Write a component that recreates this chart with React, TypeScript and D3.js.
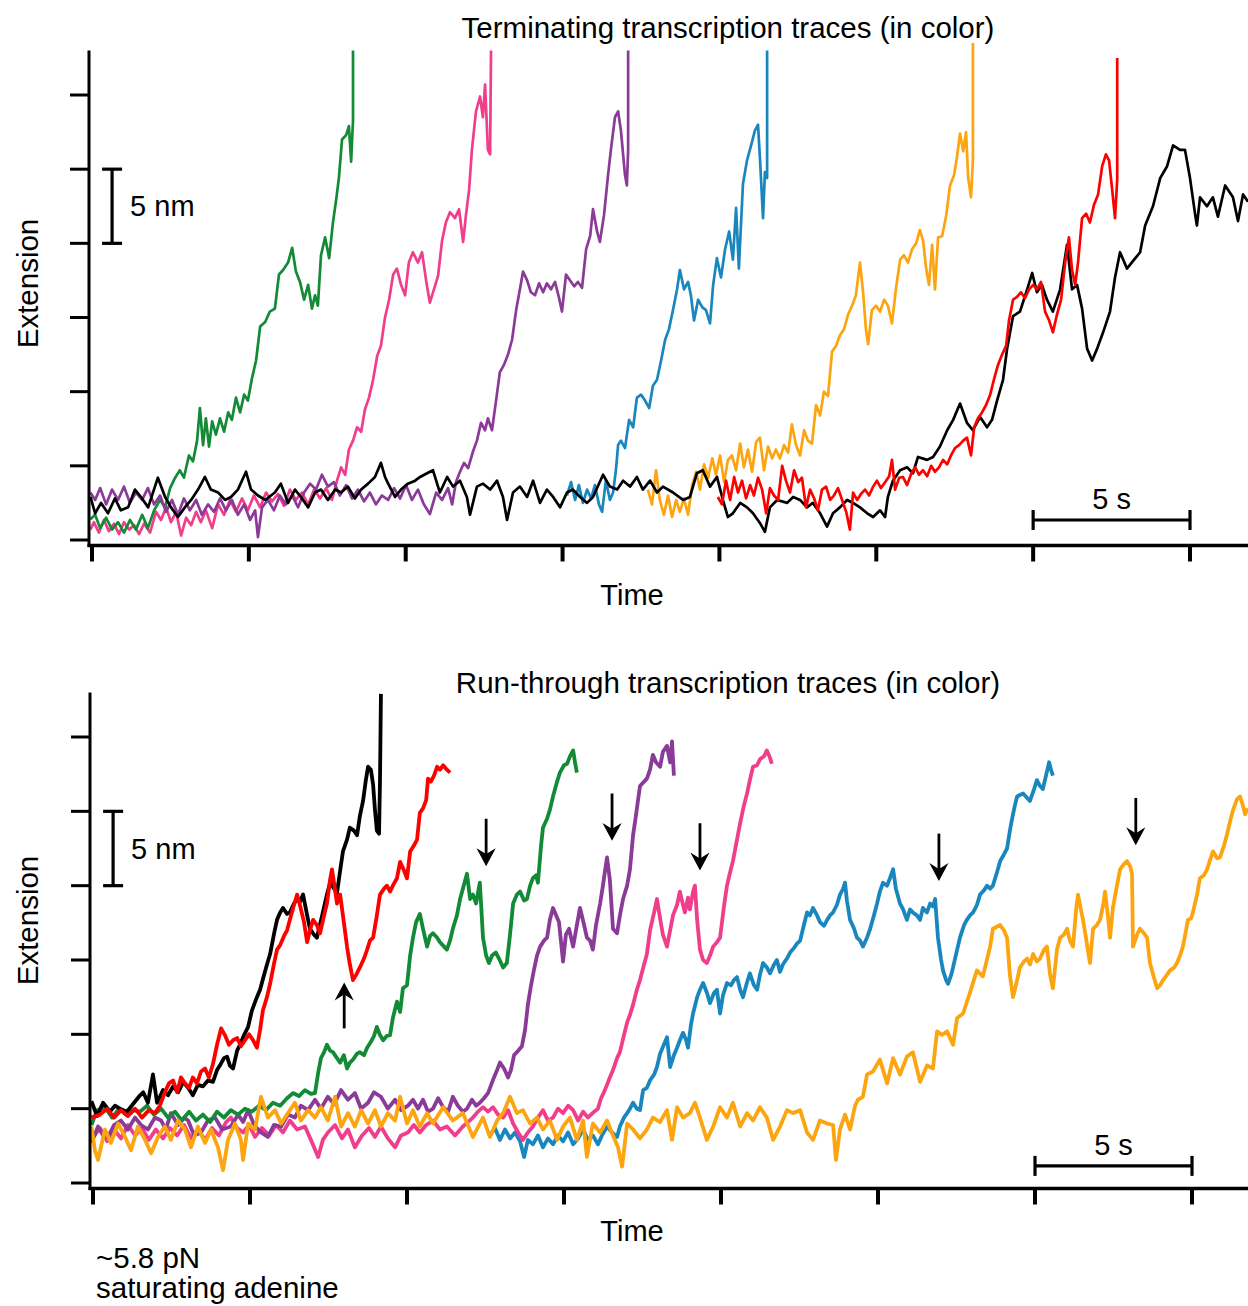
import * as d3 from "d3";

type Pt = [number, number];

// colours picked off the figure
const GREEN = "#138a36";
const PINK = "#f03e8c";
const PURPLE = "#8a3a97";
const BLUE = "#1a86be";
const ORANGE = "#fca510";
const RED = "#fd0000";
const BLACK = "#000000";

const FONT = "'Liberation Sans', Arial, Helvetica, sans-serif";

// axis ticks (no labels on the figure, scale bars instead)
const timeTicks = [0, 5, 10, 15, 20, 25, 30, 35];
const extTicks = [0, 5, 10, 15, 20, 25, 30];

// ---- terminating traces: [time s, extension nm] ----
const topGreen: Pt[] = [[-0.05,1.4],[0.1,1.7],[0.26,0.8],[0.45,1.5],[0.64,0.7],[0.83,1.2],[1.02,0.5],[1.21,1.35],[1.4,0.7],[1.6,1.7],[1.78,0.8],[1.98,2.0],[2.17,2.7],[2.33,2.2],[2.49,3.5],[2.65,4.2],[2.8,4.7],[2.93,4.2],[3.09,5.7],[3.22,5.3],[3.35,6.7],[3.44,8.9],[3.54,6.4],[3.63,8.2],[3.73,6.3],[3.83,8.0],[3.95,7.1],[4.08,8.2],[4.21,7.3],[4.34,8.6],[4.46,8.1],[4.59,9.6],[4.72,8.6],[4.85,9.8],[4.97,9.4],[5.1,10.9],[5.23,12.1],[5.36,14.4],[5.52,14.7],[5.67,15.4],[5.83,15.6],[5.96,17.9],[6.09,18.2],[6.25,18.7],[6.38,19.7],[6.5,18.1],[6.63,17.4],[6.76,16.2],[6.89,17.2],[7.01,15.6],[7.11,16.5],[7.2,15.8],[7.3,19.2],[7.43,20.4],[7.56,19.0],[7.68,21.4],[7.78,22.9],[7.87,24.4],[7.97,27.0],[8.1,27.3],[8.19,27.9],[8.26,25.5],[8.32,28.3],[8.32,33.0]];

const topPink: Pt[] = [[-0.05,0.7],[0.06,1.2],[0.22,0.5],[0.38,1.35],[0.54,0.6],[0.7,1.1],[0.86,0.4],[1.02,1.2],[1.18,0.7],[1.34,1.0],[1.5,0.4],[1.66,1.1],[1.85,0.5],[2.04,1.9],[2.2,1.35],[2.36,2.2],[2.52,1.2],[2.68,1.9],[2.84,0.3],[3.0,1.5],[3.16,1.0],[3.32,1.9],[3.47,1.2],[3.63,2.0],[3.83,0.8],[4.02,2.4],[4.21,1.7],[4.4,2.7],[4.59,1.9],[4.78,2.8],[4.97,2.0],[5.16,3.0],[5.36,2.2],[5.55,3.2],[5.74,2.6],[5.93,3.1],[6.12,2.3],[6.31,3.4],[6.5,2.7],[6.69,3.2],[6.89,2.4],[7.08,3.4],[7.27,2.8],[7.46,3.5],[7.65,2.7],[7.81,4.0],[7.94,4.9],[8.07,4.4],[8.19,6.1],[8.32,6.7],[8.45,7.6],[8.58,7.3],[8.7,8.8],[8.83,9.6],[8.96,10.8],[9.09,12.4],[9.21,13.1],[9.34,15.0],[9.47,16.2],[9.6,17.9],[9.72,18.3],[9.85,17.2],[9.98,16.5],[10.1,18.7],[10.23,19.4],[10.39,18.7],[10.52,19.4],[10.65,17.5],[10.77,16.0],[10.9,16.9],[11.03,17.8],[11.16,20.2],[11.28,21.4],[11.41,22.1],[11.57,21.7],[11.7,22.3],[11.83,20.1],[11.92,21.9],[12.02,23.6],[12.11,26.3],[12.24,28.9],[12.37,29.9],[12.46,28.5],[12.53,30.7],[12.62,26.3],[12.69,26.0],[12.72,33.0]];

const topPurple: Pt[] = [[-0.05,3.2],[0.1,2.7],[0.26,3.5],[0.45,2.4],[0.64,3.4],[0.83,2.7],[1.02,3.6],[1.21,2.5],[1.4,3.2],[1.6,2.7],[1.78,3.5],[1.98,2.4],[2.17,3.0],[2.36,1.9],[2.55,2.7],[2.74,1.7],[2.93,2.8],[3.12,2.0],[3.32,2.7],[3.5,1.7],[3.7,2.4],[3.89,1.9],[4.08,2.8],[4.27,2.0],[4.46,2.7],[4.65,1.7],[4.85,2.4],[5.04,1.35],[5.2,2.0],[5.29,0.2],[5.42,2.2],[5.61,2.7],[5.8,2.0],[5.99,3.0],[6.18,2.4],[6.38,3.0],[6.57,2.2],[6.76,3.2],[6.95,3.8],[7.14,3.4],[7.33,4.4],[7.52,3.6],[7.71,3.9],[7.9,3.0],[8.1,3.7],[8.29,2.8],[8.48,3.4],[8.67,2.6],[8.86,3.2],[9.05,2.4],[9.24,3.0],[9.44,2.7],[9.63,3.5],[9.82,2.8],[10.01,3.7],[10.2,2.7],[10.39,3.4],[10.58,2.4],[10.77,1.75],[10.97,3.2],[11.16,2.7],[11.35,3.5],[11.48,2.4],[11.6,3.9],[11.73,4.6],[11.86,5.2],[11.99,4.85],[12.15,6.0],[12.27,6.7],[12.4,7.9],[12.53,7.4],[12.62,8.2],[12.75,7.4],[12.88,9.4],[13.0,11.3],[13.13,11.8],[13.26,12.5],[13.39,13.5],[13.52,15.5],[13.64,16.9],[13.74,18.1],[13.87,17.5],[13.99,16.7],[14.12,16.5],[14.25,17.3],[14.38,16.7],[14.5,17.3],[14.63,16.9],[14.76,17.4],[14.89,16.3],[14.98,15.4],[15.11,17.9],[15.24,17.5],[15.37,17.1],[15.49,17.4],[15.62,17.0],[15.75,19.6],[15.88,20.5],[15.97,22.3],[16.1,20.8],[16.19,20.1],[16.32,21.9],[16.45,24.6],[16.54,26.3],[16.67,28.5],[16.77,28.9],[16.86,27.6],[16.99,24.6],[17.05,23.9],[17.09,26.3],[17.09,33.0]];

const topBlue: Pt[] = [[15.14,3.0],[15.27,3.9],[15.4,2.7],[15.52,3.7],[15.65,2.5],[15.78,3.4],[15.91,2.8],[16.03,3.7],[16.16,2.4],[16.26,1.9],[16.38,4.0],[16.51,2.7],[16.61,3.2],[16.7,4.7],[16.77,6.4],[16.86,6.7],[16.99,6.2],[17.12,8.1],[17.25,7.6],[17.37,9.6],[17.5,9.8],[17.63,9.4],[17.76,8.9],[17.88,10.4],[18.01,10.8],[18.14,12.1],[18.27,13.5],[18.39,14.2],[18.52,15.5],[18.65,16.9],[18.74,18.2],[18.87,16.9],[19.0,17.4],[19.09,16.5],[19.19,14.8],[19.32,16.2],[19.45,15.7],[19.57,15.5],[19.7,14.6],[19.8,17.2],[19.92,19.0],[20.05,17.7],[20.18,19.6],[20.31,20.8],[20.43,18.9],[20.53,22.4],[20.62,18.3],[20.75,24.0],[20.88,25.6],[21.01,26.6],[21.13,27.6],[21.23,28.0],[21.29,25.8],[21.39,21.7],[21.45,24.8],[21.52,24.4],[21.52,33.0]];

const topOrange: Pt[] = [[17.72,3.4],[17.85,2.4],[17.98,4.7],[18.1,2.7],[18.23,1.7],[18.36,3.0],[18.49,1.55],[18.62,2.7],[18.74,1.9],[18.87,2.8],[19.0,1.7],[19.13,3.7],[19.26,4.6],[19.38,3.4],[19.51,5.1],[19.64,4.2],[19.77,5.5],[19.89,4.4],[20.02,5.7],[20.15,3.9],[20.27,5.4],[20.4,5.7],[20.53,4.7],[20.66,6.5],[20.78,4.9],[20.91,6.1],[21.04,4.6],[21.17,6.6],[21.29,6.9],[21.42,4.7],[21.55,6.3],[21.68,5.5],[21.8,6.1],[21.93,5.5],[22.06,6.4],[22.19,5.9],[22.31,7.8],[22.44,6.4],[22.57,5.7],[22.7,7.4],[22.82,6.7],[22.95,6.5],[23.08,9.1],[23.21,8.4],[23.33,10.0],[23.46,9.7],[23.59,12.7],[23.72,13.1],[23.84,13.8],[23.97,14.2],[24.1,15.2],[24.23,15.8],[24.35,16.5],[24.48,18.7],[24.58,16.7],[24.67,14.2],[24.74,13.2],[24.86,15.5],[24.99,15.8],[25.12,15.4],[25.25,16.2],[25.37,15.8],[25.5,14.6],[25.63,17.0],[25.76,18.9],[25.88,19.2],[26.01,18.7],[26.14,19.6],[26.27,20.0],[26.39,20.9],[26.49,20.2],[26.59,18.3],[26.68,17.2],[26.78,19.9],[26.87,16.9],[26.97,20.4],[27.1,20.5],[27.23,21.9],[27.35,23.9],[27.48,24.6],[27.57,25.8],[27.67,27.4],[27.77,26.2],[27.86,27.5],[27.93,24.4],[28.02,23.1],[28.08,25.6],[28.08,33.5]];

const topRed: Pt[] = [[19.95,2.9],[20.08,2.4],[20.21,4.0],[20.34,2.7],[20.47,4.25],[20.59,3.2],[20.72,4.0],[20.85,2.8],[20.98,3.7],[21.1,3.0],[21.23,4.2],[21.36,3.4],[21.49,1.8],[21.61,3.5],[21.74,3.0],[21.87,2.7],[22.0,5.0],[22.12,4.0],[22.25,3.2],[22.38,4.7],[22.51,3.9],[22.63,4.2],[22.76,2.2],[22.89,3.4],[23.02,2.8],[23.14,2.0],[23.27,3.4],[23.4,3.6],[23.53,2.7],[23.65,3.0],[23.78,3.5],[23.91,2.7],[24.04,1.9],[24.16,0.7],[24.26,3.2],[24.39,2.7],[24.51,3.1],[24.64,3.4],[24.77,3.0],[24.9,3.6],[25.02,4.0],[25.15,3.5],[25.28,3.9],[25.41,4.3],[25.5,5.4],[25.6,3.4],[25.73,4.2],[25.85,4.25],[25.98,3.7],[26.11,4.45],[26.24,4.9],[26.36,4.4],[26.49,4.7],[26.62,4.3],[26.75,5.0],[26.87,4.6],[27.0,4.9],[27.13,5.4],[27.26,5.1],[27.38,5.7],[27.51,6.2],[27.64,6.4],[27.77,6.7],[27.89,6.9],[28.02,5.7],[28.12,7.6],[28.24,8.2],[28.37,8.6],[28.5,9.1],[28.63,9.8],[28.76,10.9],[28.88,11.8],[29.01,12.5],[29.14,13.1],[29.23,14.8],[29.36,16.2],[29.49,16.4],[29.61,16.7],[29.74,16.3],[29.87,16.9],[30.0,17.2],[30.12,16.9],[30.25,17.4],[30.38,15.4],[30.51,14.8],[30.63,14.0],[30.76,15.2],[30.89,16.2],[31.02,18.7],[31.14,20.4],[31.24,18.2],[31.34,17.2],[31.43,18.7],[31.56,21.7],[31.69,22.0],[31.81,21.4],[31.94,22.6],[32.07,23.3],[32.2,25.2],[32.32,26.0],[32.42,25.6],[32.52,23.6],[32.61,21.7],[32.68,24.3],[32.68,32.5]];

const topBlack: Pt[] = [[-0.05,2.9],[0.1,1.8],[0.29,2.5],[0.51,1.8],[0.73,2.8],[0.92,2.0],[1.15,2.2],[1.37,3.4],[1.56,2.9],[1.79,2.2],[2.1,4.2],[2.33,2.9],[2.52,2.2],[2.74,1.55],[2.96,2.2],[3.16,2.7],[3.38,3.4],[3.6,4.25],[3.79,3.4],[4.02,3.2],[4.24,2.7],[4.43,2.9],[4.65,3.4],[4.91,4.6],[5.07,3.4],[5.29,3.0],[5.52,2.7],[5.83,3.2],[6.02,3.8],[6.25,2.5],[6.47,3.4],[6.66,2.9],[6.89,2.2],[7.11,3.2],[7.3,3.4],[7.52,2.7],[7.75,3.4],[7.94,3.2],[8.16,3.6],[8.38,2.8],[8.58,3.4],[8.8,3.8],[9.02,4.25],[9.21,5.2],[9.34,4.25],[9.44,3.8],[9.66,2.9],[9.85,3.4],[10.07,3.8],[10.3,4.0],[10.46,4.25],[10.68,4.5],[10.87,4.7],[11.09,3.2],[11.32,4.25],[11.51,3.6],[11.73,4.0],[11.95,2.9],[12.05,1.7],[12.27,3.6],[12.46,3.8],[12.69,3.4],[12.91,4.0],[13.1,2.9],[13.23,1.35],[13.42,3.2],[13.64,3.6],[13.87,2.9],[14.06,4.0],[14.28,2.5],[14.5,3.4],[14.7,2.9],[14.92,2.2],[15.14,3.2],[15.33,3.4],[15.56,2.9],[15.78,2.5],[15.97,2.9],[16.29,4.4],[16.51,3.6],[16.74,3.4],[16.93,4.0],[17.15,3.6],[17.37,4.25],[17.56,3.4],[17.79,4.0],[18.01,3.2],[18.2,3.6],[18.52,3.2],[18.84,2.7],[19.06,2.9],[19.28,4.5],[19.47,4.7],[19.7,3.6],[19.92,4.25],[20.11,2.7],[20.27,1.55],[20.43,1.8],[20.66,2.5],[20.88,2.2],[21.07,1.8],[21.29,1.15],[21.45,0.55],[21.61,2.2],[21.84,2.7],[22.16,2.5],[22.35,2.9],[22.57,2.7],[22.79,2.2],[22.98,2.5],[23.21,1.8],[23.43,0.9],[23.62,1.8],[23.84,2.2],[24.07,2.7],[24.26,2.5],[24.48,2.2],[24.71,1.8],[24.9,1.55],[25.12,2.0],[25.28,1.55],[25.37,2.9],[25.53,4.0],[25.76,4.7],[25.98,4.9],[26.17,4.5],[26.33,5.6],[26.62,5.4],[26.81,5.6],[27.03,6.3],[27.26,7.4],[27.45,8.1],[27.67,9.2],[27.89,7.9],[28.08,7.4],[28.31,8.3],[28.53,7.6],[28.69,8.1],[28.85,9.4],[29.04,10.8],[29.17,12.9],[29.36,15.1],[29.58,15.4],[29.81,16.9],[29.97,18.0],[30.12,16.7],[30.28,17.2],[30.44,16.2],[30.63,15.4],[30.86,16.9],[31.08,19.9],[31.24,16.9],[31.4,17.2],[31.56,15.6],[31.72,12.9],[31.88,12.1],[32.04,12.9],[32.23,14.0],[32.45,15.4],[32.61,17.7],[32.77,19.4],[32.99,18.3],[33.18,18.8],[33.41,19.4],[33.57,21.2],[33.82,22.5],[34.05,24.4],[34.27,25.2],[34.46,26.6],[34.68,26.3],[34.84,26.3],[35.0,24.4],[35.16,22.0],[35.22,21.2],[35.32,23.1],[35.54,22.5],[35.73,23.1],[35.89,21.8],[36.12,23.9],[36.37,23.1],[36.53,21.5],[36.69,23.3],[36.85,22.8]];

// ---- run-through traces ----
const botBlack: Pt[] = [[-0.05,5.5],[0.13,4.5],[0.32,5.4],[0.54,4.8],[0.7,5.2],[0.86,5.0],[1.08,4.8],[1.27,5.3],[1.5,5.9],[1.6,6.1],[1.75,5.4],[1.91,7.3],[2.04,5.4],[2.23,6.25],[2.39,5.9],[2.55,6.5],[2.71,6.1],[2.87,6.8],[3.03,6.4],[3.18,5.9],[3.34,6.6],[3.5,6.5],[3.66,6.9],[3.82,6.8],[3.95,7.6],[4.04,7.9],[4.17,8.4],[4.27,8.5],[4.36,7.9],[4.46,7.7],[4.59,8.9],[4.68,9.3],[4.81,9.95],[4.94,10.5],[5.06,11.6],[5.22,12.5],[5.32,13.0],[5.41,13.7],[5.54,14.7],[5.64,15.4],[5.76,16.7],[5.86,17.7],[5.96,18.2],[6.05,18.5],[6.18,18.1],[6.27,18.2],[6.4,18.8],[6.5,19.1],[6.59,18.9],[6.69,19.4],[6.82,18.0],[6.91,17.1],[7.04,16.7],[7.13,16.5],[7.23,17.4],[7.32,18.2],[7.45,19.4],[7.55,20.2],[7.68,19.8],[7.77,19.5],[7.87,21.0],[7.96,22.3],[8.09,23.1],[8.18,23.9],[8.31,23.7],[8.41,23.4],[8.5,24.7],[8.6,25.7],[8.69,27.1],[8.76,28.0],[8.85,27.8],[8.92,26.8],[8.98,25.1],[9.04,23.7],[9.11,23.5],[9.14,27.1],[9.17,32.9]];

const botRed: Pt[] = [[-0.05,4.4],[0.22,4.6],[0.45,5.0],[0.67,4.4],[0.89,4.9],[1.11,4.5],[1.34,5.0],[1.56,4.4],[1.78,4.9],[1.97,4.7],[2.13,5.2],[2.29,6.1],[2.42,6.7],[2.55,6.9],[2.68,6.1],[2.8,7.1],[2.93,6.7],[3.06,6.4],[3.18,7.1],[3.31,6.7],[3.44,7.5],[3.57,7.7],[3.69,7.1],[3.82,8.0],[3.95,9.3],[4.08,10.4],[4.2,9.95],[4.33,9.3],[4.46,9.6],[4.59,9.75],[4.71,9.2],[4.84,9.6],[4.97,10.0],[5.1,9.6],[5.22,9.1],[5.32,10.3],[5.41,11.6],[5.54,12.5],[5.64,13.4],[5.76,14.7],[5.86,15.7],[5.96,16.0],[6.08,16.6],[6.18,17.0],[6.27,17.7],[6.4,18.7],[6.5,19.4],[6.59,18.7],[6.72,17.55],[6.82,16.2],[6.91,17.0],[7.01,17.7],[7.13,17.35],[7.23,16.8],[7.36,18.0],[7.45,18.8],[7.55,20.4],[7.61,21.1],[7.71,19.7],[7.77,18.8],[7.87,19.4],[7.96,18.0],[8.09,15.9],[8.18,14.7],[8.28,13.65],[8.38,14.0],[8.5,14.5],[8.63,15.1],[8.73,15.7],[8.82,16.3],[8.92,16.5],[9.04,18.0],[9.14,19.4],[9.27,19.8],[9.36,20.0],[9.46,19.6],[9.55,20.0],[9.68,20.5],[9.78,21.6],[9.9,21.05],[10.0,20.5],[10.1,22.3],[10.22,22.7],[10.32,23.1],[10.41,24.9],[10.51,25.2],[10.61,25.75],[10.67,27.2],[10.76,27.0],[10.86,27.4],[10.96,28.0],[11.05,27.8],[11.15,28.1],[11.27,27.8],[11.37,27.6]];

const botGreen: Pt[] = [[-0.05,3.9],[0.13,4.9],[0.38,5.1],[0.61,4.4],[0.83,5.0],[1.05,4.6],[1.27,4.9],[1.5,4.8],[1.72,5.2],[1.94,4.6],[2.17,5.0],[2.39,4.4],[2.61,4.8],[2.83,4.2],[3.06,4.8],[3.28,4.2],[3.5,4.6],[3.73,4.1],[3.95,4.8],[4.17,4.4],[4.39,4.9],[4.62,4.6],[4.84,5.0],[5.06,4.8],[5.29,5.2],[5.51,4.9],[5.73,5.4],[5.96,5.2],[6.18,5.7],[6.37,6.05],[6.56,5.85],[6.75,6.25],[6.94,6.0],[7.07,6.05],[7.17,7.4],[7.26,8.4],[7.36,8.8],[7.45,9.3],[7.55,8.9],[7.64,8.8],[7.77,8.4],[7.87,8.1],[7.99,8.6],[8.09,7.7],[8.18,8.1],[8.28,8.3],[8.41,8.7],[8.5,8.8],[8.63,8.6],[8.73,9.1],[8.85,9.5],[8.95,9.9],[9.04,10.5],[9.14,9.95],[9.24,9.6],[9.36,9.9],[9.46,9.95],[9.55,11.1],[9.68,12.2],[9.78,11.5],[9.87,13.1],[10.0,13.3],[10.1,15.3],[10.19,16.5],[10.29,17.55],[10.41,18.1],[10.51,17.1],[10.64,15.9],[10.73,16.6],[10.83,16.8],[10.96,16.5],[11.05,16.2],[11.18,15.9],[11.27,15.7],[11.37,16.3],[11.46,17.1],[11.59,18.0],[11.69,19.1],[11.78,19.8],[11.91,20.8],[12.01,19.1],[12.1,19.4],[12.2,18.8],[12.32,20.2],[12.42,16.5],[12.52,15.3],[12.61,14.8],[12.71,15.3],[12.83,15.5],[12.93,15.1],[13.06,14.5],[13.18,14.8],[13.28,16.7],[13.38,18.8],[13.5,19.4],[13.6,19.6],[13.73,19.0],[13.82,19.1],[13.92,20.0],[14.01,20.5],[14.11,20.7],[14.17,20.2],[14.27,22.7],[14.33,23.9],[14.46,24.5],[14.55,25.1],[14.65,26.0],[14.78,27.0],[14.87,27.6],[15.0,28.1],[15.1,28.2],[15.19,28.7],[15.29,29.1],[15.35,28.3],[15.41,27.6]];

const botPurple: Pt[] = [[-0.05,2.7],[0.16,3.8],[0.32,3.2],[0.48,3.1],[0.67,3.9],[0.89,4.2],[1.11,3.6],[1.34,4.4],[1.53,3.9],[1.75,3.6],[1.97,4.4],[2.17,4.2],[2.32,3.6],[2.48,4.7],[2.71,3.9],[2.9,4.4],[3.03,4.2],[3.22,3.2],[3.44,3.4],[3.66,4.2],[3.89,4.4],[4.11,3.6],[4.39,3.8],[4.62,4.6],[4.78,4.1],[4.94,4.9],[5.13,3.9],[5.35,3.4],[5.57,3.1],[5.76,3.9],[5.99,3.8],[6.21,4.6],[6.43,4.4],[6.62,5.2],[6.85,4.9],[7.07,5.6],[7.26,5.0],[7.48,5.8],[7.68,5.3],[7.9,6.25],[8.12,5.6],[8.34,6.05],[8.54,5.0],[8.76,5.4],[8.95,6.1],[9.17,5.8],[9.39,5.0],[9.62,5.6],[9.81,4.9],[10.03,5.2],[10.19,5.6],[10.35,5.0],[10.51,5.6],[10.67,4.8],[10.83,5.0],[10.99,5.7],[11.15,5.1],[11.31,4.8],[11.46,5.8],[11.62,5.2],[11.78,4.8],[11.91,5.0],[12.07,5.6],[12.2,5.2],[12.32,5.4],[12.45,5.7],[12.58,6.05],[12.68,6.6],[12.77,7.1],[12.87,7.6],[12.96,8.1],[13.09,7.7],[13.22,7.1],[13.31,7.6],[13.41,8.6],[13.54,8.9],[13.66,9.2],[13.76,10.3],[13.85,12.0],[13.95,13.3],[14.04,14.3],[14.14,15.3],[14.24,15.9],[14.36,16.3],[14.46,16.5],[14.55,17.7],[14.65,18.5],[14.75,18.0],[14.84,17.55],[14.97,14.9],[15.06,16.7],[15.16,17.1],[15.29,15.9],[15.41,17.35],[15.51,18.5],[15.64,17.35],[15.73,16.5],[15.83,16.3],[15.92,15.7],[16.02,17.35],[16.15,18.8],[16.24,20.0],[16.31,21.05],[16.37,21.9],[16.46,20.4],[16.56,17.1],[16.69,16.8],[16.78,18.0],[16.88,19.1],[17.01,20.0],[17.1,21.1],[17.2,23.4],[17.29,24.7],[17.42,26.7],[17.55,27.0],[17.64,27.2],[17.74,27.8],[17.83,28.8],[17.93,28.3],[18.06,28.0],[18.15,29.0],[18.28,29.4],[18.38,28.3],[18.44,29.7],[18.5,27.4]];

const botPink: Pt[] = [[-0.05,2.9],[0.22,3.7],[0.45,2.8],[0.67,3.6],[0.89,3.0],[1.11,3.9],[1.34,3.2],[1.56,3.7],[1.78,2.9],[2.0,3.6],[2.23,3.0],[2.45,3.7],[2.68,3.2],[2.9,3.9],[3.12,3.0],[3.34,3.6],[3.57,2.9],[3.79,3.7],[4.01,3.2],[4.24,4.1],[4.39,4.4],[4.59,3.7],[4.78,3.4],[4.97,3.9],[5.16,3.1],[5.38,3.7],[5.61,3.2],[5.83,3.9],[6.05,3.4],[6.27,4.2],[6.5,3.6],[6.75,3.8],[6.94,2.9],[7.17,1.75],[7.32,2.9],[7.48,3.4],[7.71,3.9],[7.93,3.0],[8.12,3.6],[8.34,2.4],[8.57,3.2],[8.79,3.7],[8.98,3.1],[9.17,3.8],[9.39,3.0],[9.62,2.4],[9.81,3.2],[10.03,3.4],[10.22,3.9],[10.41,3.4],[10.61,3.9],[10.83,4.2],[11.05,3.6],[11.27,3.8],[11.53,3.2],[11.78,3.8],[11.94,4.1],[12.1,4.4],[12.26,4.8],[12.42,5.1],[12.58,4.8],[12.74,5.1],[12.9,4.6],[13.06,4.4],[13.22,4.9],[13.38,4.0],[13.54,3.4],[13.69,2.9],[13.85,3.4],[14.01,3.8],[14.17,4.4],[14.33,4.9],[14.49,4.2],[14.65,4.4],[14.81,5.0],[14.97,4.7],[15.13,5.2],[15.29,4.9],[15.45,4.2],[15.61,4.8],[15.76,4.4],[15.96,4.8],[16.08,5.0],[16.18,5.7],[16.27,6.1],[16.37,6.6],[16.46,7.1],[16.56,7.6],[16.69,8.4],[16.78,8.8],[16.91,9.95],[17.01,10.8],[17.1,11.3],[17.2,12.0],[17.32,13.0],[17.42,13.65],[17.55,14.7],[17.64,15.4],[17.74,17.0],[17.87,18.2],[17.96,19.1],[18.06,17.8],[18.15,16.7],[18.28,15.9],[18.38,17.0],[18.47,18.0],[18.6,18.7],[18.69,19.6],[18.79,18.7],[18.85,18.2],[18.95,19.2],[19.01,18.4],[19.11,19.6],[19.17,20.0],[19.24,17.7],[19.33,15.7],[19.43,15.0],[19.55,14.8],[19.65,15.3],[19.75,15.9],[19.87,16.2],[19.97,16.5],[20.1,18.7],[20.19,20.0],[20.29,20.9],[20.38,21.65],[20.51,23.1],[20.61,24.2],[20.73,25.4],[20.83,26.2],[20.92,27.1],[21.02,28.0],[21.15,28.1],[21.24,28.5],[21.37,28.7],[21.46,29.1],[21.56,28.6],[21.62,28.2]];

const botBlue: Pt[] = [[12.64,3.2],[12.8,3.7],[12.96,2.9],[13.12,3.6],[13.28,3.0],[13.44,3.4],[13.6,2.8],[13.73,1.75],[13.85,2.9],[14.01,2.6],[14.17,3.2],[14.33,2.4],[14.49,3.0],[14.65,2.6],[14.81,3.2],[14.97,2.8],[15.13,3.4],[15.29,2.6],[15.45,3.0],[15.61,3.6],[15.76,2.9],[15.92,3.2],[16.08,2.6],[16.21,3.2],[16.37,3.8],[16.53,3.4],[16.69,3.1],[16.78,3.8],[16.91,4.4],[17.01,4.7],[17.1,5.0],[17.2,5.4],[17.32,5.0],[17.42,4.9],[17.52,6.25],[17.64,6.4],[17.74,6.9],[17.87,7.3],[17.96,7.8],[18.06,8.7],[18.18,9.3],[18.28,9.8],[18.38,7.8],[18.5,8.6],[18.6,9.1],[18.69,9.6],[18.79,10.1],[18.89,9.6],[18.95,9.1],[19.04,10.6],[19.11,11.4],[19.24,12.5],[19.33,13.0],[19.43,13.45],[19.55,12.8],[19.65,12.1],[19.78,12.8],[19.87,13.0],[19.97,11.4],[20.06,12.6],[20.19,13.45],[20.32,13.3],[20.41,13.65],[20.51,13.85],[20.61,13.0],[20.7,12.5],[20.83,13.5],[20.92,14.1],[21.05,13.3],[21.15,13.0],[21.24,14.0],[21.34,14.8],[21.46,14.5],[21.56,14.1],[21.69,14.7],[21.78,15.0],[21.88,14.2],[21.97,14.7],[22.1,15.1],[22.2,15.5],[22.32,15.8],[22.42,16.1],[22.52,16.3],[22.64,17.35],[22.74,18.2],[22.83,18.0],[22.93,18.5],[23.06,18.0],[23.15,17.55],[23.28,17.3],[23.38,17.7],[23.47,18.0],[23.57,18.2],[23.69,18.7],[23.79,19.4],[23.89,19.8],[23.95,20.2],[24.01,19.0],[24.11,17.7],[24.24,17.1],[24.33,16.5],[24.43,16.3],[24.52,15.9],[24.65,16.5],[24.75,17.1],[24.87,18.0],[24.97,18.8],[25.06,19.6],[25.16,20.2],[25.29,20.0],[25.38,20.5],[25.48,21.1],[25.57,19.8],[25.7,18.8],[25.8,18.4],[25.92,17.7],[26.02,18.4],[26.11,18.2],[26.24,18.0],[26.34,17.7],[26.43,18.5],[26.56,18.2],[26.66,18.8],[26.75,18.6],[26.82,19.1],[26.91,16.5],[27.01,15.0],[27.07,14.3],[27.17,13.65],[27.23,13.4],[27.33,14.0],[27.39,14.5],[27.52,15.7],[27.61,16.5],[27.74,17.35],[27.83,17.7],[27.93,18.0],[28.03,18.2],[28.15,18.7],[28.25,19.4],[28.38,19.7],[28.47,20.0],[28.57,19.8],[28.66,20.0],[28.79,20.9],[28.89,21.65],[29.01,22.1],[29.11,22.5],[29.2,23.7],[29.27,24.5],[29.36,25.4],[29.43,26.0],[29.52,26.1],[29.62,26.2],[29.75,25.9],[29.84,25.7],[29.97,26.5],[30.06,27.1],[30.16,26.7],[30.25,26.5],[30.35,27.4],[30.45,28.3],[30.51,27.8],[30.57,27.4]];

const botOrange: Pt[] = [[-0.05,3.8],[0.06,2.2],[0.16,1.55],[0.38,3.6],[0.57,2.7],[0.8,4.0],[1.02,3.1],[1.21,2.2],[1.43,3.8],[1.66,2.9],[1.85,2.0],[2.07,3.1],[2.29,3.8],[2.48,2.9],[2.71,4.2],[2.93,3.6],[3.12,2.4],[3.34,3.8],[3.57,2.7],[3.76,3.6],[3.98,2.4],[4.14,0.87],[4.3,2.9],[4.52,4.0],[4.71,2.9],[4.78,1.55],[4.94,4.0],[5.16,3.6],[5.35,5.8],[5.57,4.4],[5.8,4.9],[5.99,4.0],[6.21,4.7],[6.43,5.4],[6.62,4.2],[6.85,4.9],[7.07,4.4],[7.26,5.1],[7.48,4.2],[7.71,5.8],[7.9,3.8],[8.12,4.7],[8.34,3.8],[8.54,4.9],[8.76,4.0],[8.98,4.9],[9.17,3.8],[9.39,4.7],[9.62,4.2],[9.78,5.8],[10.0,4.0],[10.19,4.9],[10.41,3.8],[10.64,4.7],[10.83,4.0],[11.15,5.1],[11.46,4.2],[11.78,4.7],[12.1,3.1],[12.42,4.4],[12.64,3.1],[12.87,4.2],[13.06,4.7],[13.28,5.8],[13.5,4.7],[13.69,4.9],[13.92,4.0],[14.14,4.4],[14.33,3.6],[14.55,4.2],[14.78,2.9],[14.97,3.8],[15.19,4.4],[15.41,2.9],[15.61,4.2],[15.73,1.75],[15.92,4.0],[16.15,3.4],[16.37,4.2],[16.56,3.2],[16.72,2.4],[16.85,1.1],[17.01,4.0],[17.2,3.6],[17.42,3.0],[17.64,3.6],[17.83,4.4],[18.06,4.1],[18.28,4.9],[18.44,2.9],[18.6,5.1],[18.79,4.4],[19.01,4.7],[19.17,5.4],[19.33,4.4],[19.55,2.9],[19.75,3.8],[19.97,5.1],[20.19,4.4],[20.38,5.4],[20.61,3.8],[20.83,4.7],[21.02,4.2],[21.24,5.1],[21.46,4.4],[21.66,2.9],[21.88,3.8],[22.1,4.9],[22.29,4.7],[22.52,4.9],[22.74,3.4],[22.93,2.9],[23.15,4.2],[23.38,4.0],[23.57,3.9],[23.66,1.55],[23.79,3.6],[23.95,4.6],[24.11,3.6],[24.27,5.2],[24.36,5.6],[24.52,5.8],[24.65,7.3],[24.84,7.5],[25.06,8.3],[25.29,6.7],[25.48,8.4],[25.7,7.3],[25.92,8.5],[26.11,8.8],[26.34,6.8],[26.56,7.9],[26.75,7.7],[26.88,10.2],[27.04,9.95],[27.2,10.2],[27.39,9.3],[27.52,11.1],[27.71,11.4],[27.93,12.8],[28.15,14.3],[28.34,13.9],[28.57,15.9],[28.66,17.1],[28.89,17.35],[29.01,17.0],[29.11,16.5],[29.2,14.0],[29.3,12.5],[29.43,13.65],[29.52,14.5],[29.65,14.9],[29.75,15.1],[29.84,14.7],[29.94,15.4],[30.06,14.9],[30.16,15.1],[30.29,15.7],[30.38,15.9],[30.48,14.0],[30.57,13.1],[30.7,15.7],[30.8,16.5],[30.92,16.7],[31.02,17.1],[31.11,16.3],[31.21,15.9],[31.31,18.4],[31.37,19.4],[31.46,18.4],[31.53,17.7],[31.66,16.0],[31.75,14.8],[31.85,17.1],[31.97,17.35],[32.07,17.7],[32.17,18.7],[32.23,19.6],[32.32,18.0],[32.39,16.5],[32.48,18.5],[32.61,20.0],[32.71,21.1],[32.83,21.45],[32.93,21.65],[33.03,21.3],[33.09,20.8],[33.12,15.9],[33.25,16.7],[33.34,17.1],[33.47,16.8],[33.57,16.5],[33.66,14.8],[33.79,13.8],[33.89,13.1],[33.98,13.3],[34.08,13.65],[34.2,14.0],[34.3,14.3],[34.43,14.5],[34.52,14.8],[34.62,15.3],[34.71,15.9],[34.81,17.0],[34.87,17.7],[34.97,17.8],[35.03,18.2],[35.16,19.4],[35.25,20.5],[35.38,20.7],[35.48,21.1],[35.57,21.7],[35.67,22.3],[35.8,21.85],[35.89,21.9],[36.02,22.7],[36.11,23.4],[36.21,24.3],[36.31,25.1],[36.43,25.8],[36.53,26.0],[36.62,25.4],[36.69,24.8],[36.78,25.2]];

// pause arrows on the run-through panel: time, tail nm, tip nm
const arrowTimes = [12.52, 16.53, 19.33, 26.94, 33.21, 8.0];
const arrowTails = [24.5, 26.2, 24.2, 23.5, 25.9, 10.4];
const arrowTips = [21.4, 23.1, 21.1, 20.4, 22.8, 13.4];

interface Trace {
  name: string;
  color: string;
  points: Pt[];
}

// drawing order matters where baselines overlap
const topTraces: Trace[] = [
  { name: "pink", color: PINK, points: topPink },
  { name: "green", color: GREEN, points: topGreen },
  { name: "purple", color: PURPLE, points: topPurple },
  { name: "blue", color: BLUE, points: topBlue },
  { name: "orange", color: ORANGE, points: topOrange },
  { name: "black", color: BLACK, points: topBlack },
  { name: "red", color: RED, points: topRed },
];

const bottomTraces: Trace[] = [
  { name: "blue", color: BLUE, points: botBlue },
  { name: "pink", color: PINK, points: botPink },
  { name: "purple", color: PURPLE, points: botPurple },
  { name: "green", color: GREEN, points: botGreen },
  { name: "black", color: BLACK, points: botBlack },
  { name: "red", color: RED, points: botRed },
  { name: "orange", color: ORANGE, points: botOrange },
];

interface PanelProps {
  title: string;
  traces: Trace[];
  xRange: [number, number];
  yRange: [number, number];
  lineWidth: number;
  titleY: number;
  timeY: number;
  extY: number;
  sBarNm: number;
  withArrows?: boolean;
}

function Panel({ title, traces, xRange, yRange, lineWidth, titleY, timeY, extY, sBarNm, withArrows }: PanelProps) {
  const x = d3.scaleLinear().domain([0, 35]).range(xRange);
  const y = d3.scaleLinear().domain([0, 30]).range(yRange);
  const line = d3.line<Pt>().x((d) => x(d[0])).y((d) => y(d[1]));

  const yAxisX = x(0) - 3;
  const xAxisY = y(0) + 5.5;
  const barX = x(0.64);

  return (
    <g>
      <text x={728} y={titleY} textAnchor="middle" fontSize={29.5} fontFamily={FONT}>{title}</text>

      {traces.map((tr) => (
        <path
          key={tr.name}
          d={line(tr.points) || ""}
          fill="none"
          stroke={tr.color}
          strokeWidth={lineWidth}
          strokeLinejoin="round"
        />
      ))}

      {/* axes */}
      <line x1={yAxisX} x2={yAxisX} y1={y(33)} y2={xAxisY + 1.5} stroke="#000" strokeWidth={3} />
      {extTicks.map((v) => (
        <line key={v} x1={yAxisX - 19} x2={yAxisX} y1={y(v)} y2={y(v)} stroke="#000" strokeWidth={3} />
      ))}
      <line x1={yAxisX - 1.5} x2={1248} y1={xAxisY} y2={xAxisY} stroke="#000" strokeWidth={3.5} />
      {timeTicks.map((v) => (
        <line key={v} x1={x(v)} x2={x(v)} y1={xAxisY} y2={xAxisY + 16} stroke="#000" strokeWidth={4} />
      ))}

      {/* 5 nm scale bar */}
      <g stroke="#000" strokeWidth={3.2}>
        <line x1={barX} x2={barX} y1={y(20)} y2={y(25)} />
        <line x1={barX - 10} x2={barX + 10} y1={y(20)} y2={y(20)} />
        <line x1={barX - 10} x2={barX + 10} y1={y(25)} y2={y(25)} />
      </g>
      <text x={barX + 18} y={y(22.5) + 10} fontSize={29} fontFamily={FONT}>5 nm</text>

      {/* 5 s scale bar */}
      <g stroke="#000" strokeWidth={3.2}>
        <line x1={x(30)} x2={x(35)} y1={y(sBarNm)} y2={y(sBarNm)} />
        <line x1={x(30)} x2={x(30)} y1={y(sBarNm) - 10} y2={y(sBarNm) + 10} />
        <line x1={x(35)} x2={x(35)} y1={y(sBarNm) - 10} y2={y(sBarNm) + 10} />
      </g>
      <text x={x(32.5)} y={y(sBarNm) - 11} textAnchor="middle" fontSize={29} fontFamily={FONT}>5 s</text>

      <text x={632} y={timeY} textAnchor="middle" fontSize={29} fontFamily={FONT}>Time</text>
      <text transform={`translate(38,${extY}) rotate(-90)`} textAnchor="middle" fontSize={29.5} fontFamily={FONT}>Extension</text>

      {withArrows &&
        arrowTimes.map((t, i) => {
          const ax = x(t);
          const tail = y(arrowTails[i]);
          const tip = y(arrowTips[i]);
          const dir = tip > tail ? 1 : -1;
          const head = `M${ax},${tip} L${ax - 8},${tip - dir * 15} L${ax},${tip - dir * 10} L${ax + 8},${tip - dir * 15} Z`;
          return (
            <g key={i}>
              <line x1={ax} x2={ax} y1={tail} y2={tip - dir * 10} stroke="#000" strokeWidth={2.8} />
              <path d={head} fill="#000" stroke="#000" strokeWidth={1.2} strokeLinejoin="miter" />
            </g>
          );
        })}
    </g>
  );
}

export default function App() {
  return (
    <>
      <style>{`body{margin:0;background:#fff}`}</style>
      <svg width={1248} height={1306} viewBox="0 0 1248 1306" style={{ display: "block" }}>
        <rect width={1248} height={1306} fill="#fff" />
        <Panel
          title="Terminating transcription traces (in color)"
          traces={topTraces}
          xRange={[92, 1190]}
          yRange={[540, 95]}
          lineWidth={2.7}
          titleY={37.5}
          timeY={605}
          extY={283.5}
          sBarNm={1.35}
        />
        <Panel
          title="Run-through transcription traces (in color)"
          traces={bottomTraces}
          xRange={[93, 1192]}
          yRange={[1183, 737]}
          lineWidth={3.8}
          titleY={693}
          timeY={1241}
          extY={920.5}
          sBarNm={1.15}
          withArrows
        />
        <text x={96} y={1268} fontSize={29.5} fontFamily={FONT}>~5.8 pN</text>
        <text x={96} y={1298} fontSize={29.5} fontFamily={FONT}>saturating adenine</text>
      </svg>
    </>
  );
}
